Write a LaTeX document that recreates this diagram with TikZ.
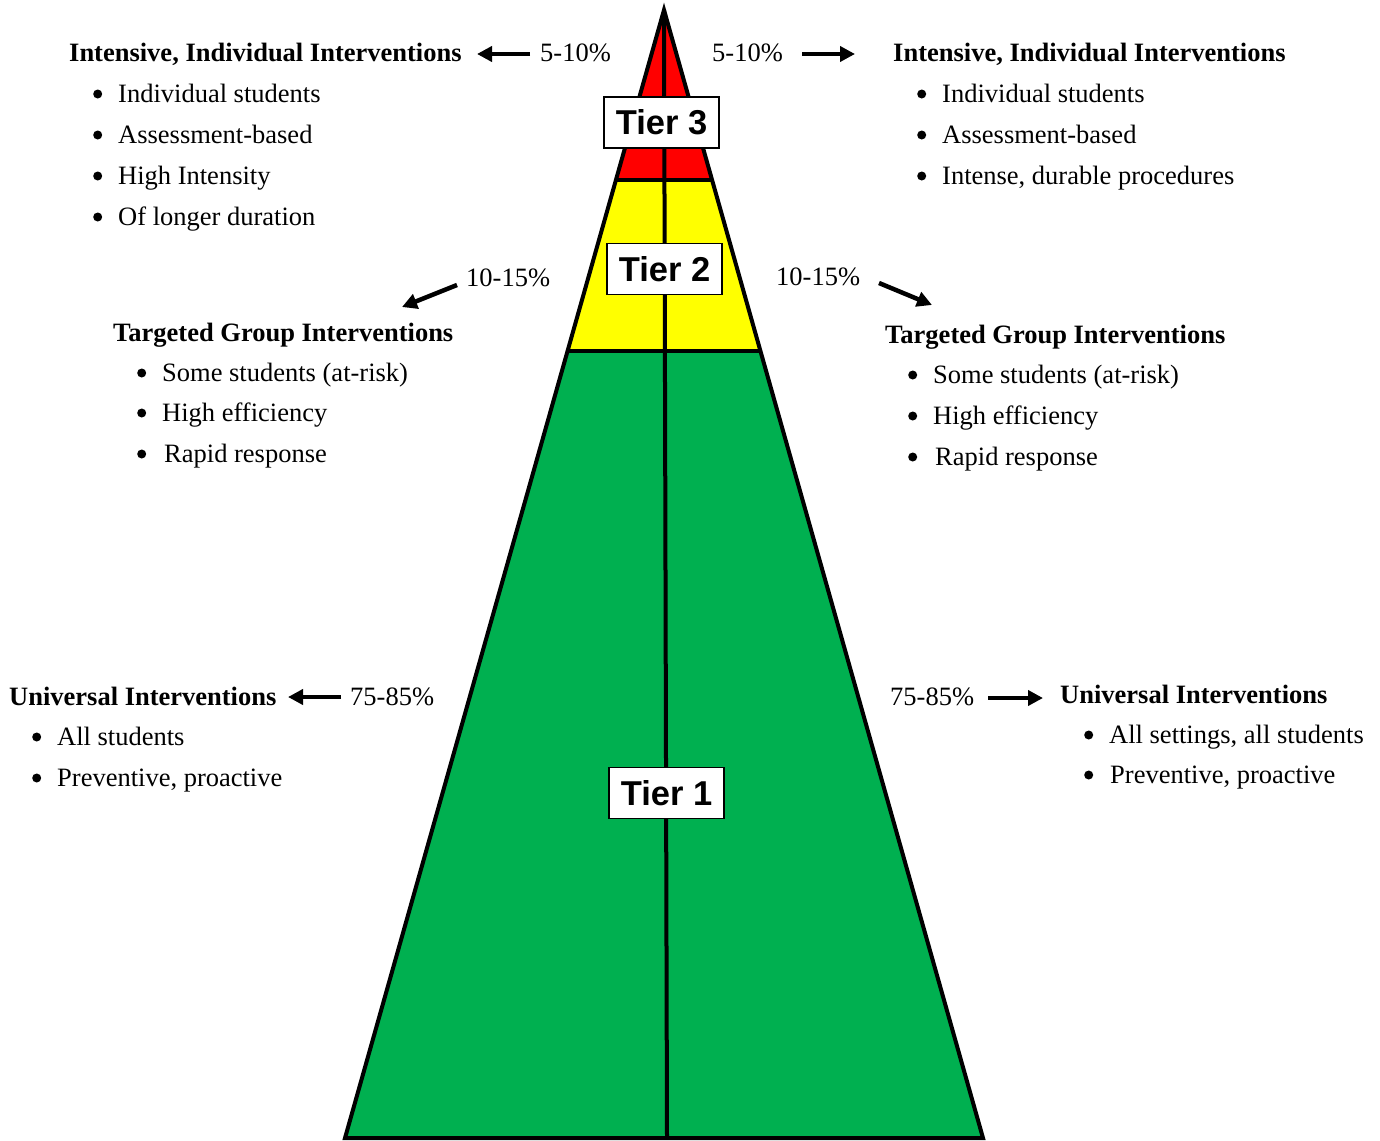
\documentclass[tikz,border=0pt]{standalone}
\usepackage{fontspec}
\setmainfont{Liberation Serif}
\newfontfamily\tierfont{Liberation Sans}
\usetikzlibrary{arrows.meta,calc}
\definecolor{tred}{HTML}{FF0000}
\definecolor{tyellow}{HTML}{FFFF00}
\definecolor{tgreen}{HTML}{00B050}
\newcommand{\bdot}{\tikz[baseline=-8pt]\fill[black] (4.5pt,0pt) circle[radius=4.5pt];}
\newcommand{\bitem}[1]{\makebox[25pt][l]{\bdot}#1}
\tikzset{
  txt/.style={anchor=base west,inner sep=0pt,font=\fontsize{26.5}{30}\selectfont},
  head/.style={txt,font=\fontsize{26.5}{30}\selectfont\bfseries},
  tierbox/.style={draw=black,line width=1.2pt,fill=white,minimum width=115pt,minimum height=51pt,inner sep=0pt,font=\tierfont\fontsize{34.5}{36}\selectfont\bfseries},
  outline/.style={draw=black,line width=4pt,line join=miter},
  bigarrow/.style={line width=4.5pt,-{Triangle[length=15pt,width=15pt]}},
}
\begin{document}
\begin{tikzpicture}[x=1pt,y=-1pt]
\useasboundingbox (0,0) rectangle (1380,1140);
% pyramid geometry
\coordinate (apex) at (664,10);
\coordinate (bl) at (345,1138);
\coordinate (br) at (983,1138);
\coordinate (l3) at ($(apex)!0.1507!(bl)$);
\coordinate (r3) at ($(apex)!0.1507!(br)$);
\coordinate (l2) at ($(apex)!0.3023!(bl)$);
\coordinate (r2) at ($(apex)!0.3023!(br)$);
\coordinate (cb) at (667,1138);
% fills
\fill[tred] (apex) -- (l3) -- (r3) -- cycle;
\fill[tyellow] (l3) -- (l2) -- (r2) -- (r3) -- cycle;
\fill[tgreen] (l2) -- (bl) -- (br) -- (r2) -- cycle;
% lines
\draw[outline] (l3) -- (r3);
\draw[outline] (l2) -- (r2);
\draw[outline] (apex) -- (cb);
\draw[outline] (apex) -- (bl) -- (br) -- cycle;
% tier labels
\node[tierbox] (t3) at (661.5,122.5) {Tier 3};
\node[tierbox] (t2) at (664.5,269) {Tier 2};
\node[tierbox] (t1) at (666.5,793) {Tier 1};

% ---- Tier 3 left
\node[head] (h3l) at (69,62) {Intensive, Individual Interventions};
\node[txt] (p3l) at (540,62) {5-10\%};
\node[txt] (a3l1) at (93,102) {\bitem{Individual students}};
\node[txt] (a3l2) at (93,143) {\bitem{Assessment-based}};
\node[txt] (a3l3) at (93,184) {\bitem{High Intensity}};
\node[txt] (a3l4) at (93,225) {\bitem{Of longer duration}};
\coordinate (s3l) at (530,54);
\coordinate (e3l) at (477,54);
\draw[bigarrow] (s3l) -- (e3l);

% ---- Tier 3 right
\node[txt] (p3r) at (712,62) {5-10\%};
\node[head] (h3r) at (893,62) {Intensive, Individual Interventions};
\node[txt] (a3r1) at (917,102) {\bitem{Individual students}};
\node[txt] (a3r2) at (917,143) {\bitem{Assessment-based}};
\node[txt] (a3r3) at (917,184) {\bitem{Intense, durable procedures}};
\coordinate (s3r) at (802,54);
\coordinate (e3r) at (855,54);
\draw[bigarrow] (s3r) -- (e3r);

% ---- Tier 2 left
\node[txt] (p2l) at (466,286) {10-15\%};
\node[head] (h2l) at (113,341) {Targeted Group Interventions};
\node[txt] (a2l1) at (137,381) {\bitem{Some students (at-risk)}};
\node[txt] (a2l2) at (137,421) {\bitem{High efficiency}};
\node[txt] (a2l3) at (137,462) {\bitem{\hspace{2pt}Rapid response}};
\coordinate (s2l) at (457,285);
\coordinate (e2l) at (402,307);
\draw[bigarrow] (s2l) -- (e2l);

% ---- Tier 2 right
\node[txt] (p2r) at (776,285) {10-15\%};
\node[head] (h2r) at (885,343) {Targeted Group Interventions};
\node[txt] (a2r1) at (908,383) {\bitem{Some students (at-risk)}};
\node[txt] (a2r2) at (908,424) {\bitem{High efficiency}};
\node[txt] (a2r3) at (908,465) {\bitem{\hspace{2pt}Rapid response}};
\coordinate (s2r) at (879,283);
\coordinate (e2r) at (932,305);
\draw[bigarrow] (s2r) -- (e2r);

% ---- Tier 1 left
\node[head] (h1l) at (9,705) {Universal Interventions};
\node[txt] (p1l) at (350,705) {75-85\%};
\node[txt] (a1l1) at (32,745) {\bitem{All students}};
\node[txt] (a1l2) at (32,786) {\bitem{Preventive, proactive}};
\coordinate (s1l) at (341,697);
\coordinate (e1l) at (288,697);
\draw[bigarrow] (s1l) -- (e1l);

% ---- Tier 1 right
\node[txt] (p1r) at (890,705) {75-85\%};
\node[head] (h1r) at (1060,703) {Universal Interventions};
\node[txt] (a1r1) at (1084,743) {\bitem{All settings, all students}};
\node[txt] (a1r2) at (1084,783) {\bitem{\hspace{1pt}Preventive, proactive}};
\coordinate (s1r) at (988,698);
\coordinate (e1r) at (1043,698);
\draw[bigarrow] (s1r) -- (e1r);
\end{tikzpicture}
\end{document}
